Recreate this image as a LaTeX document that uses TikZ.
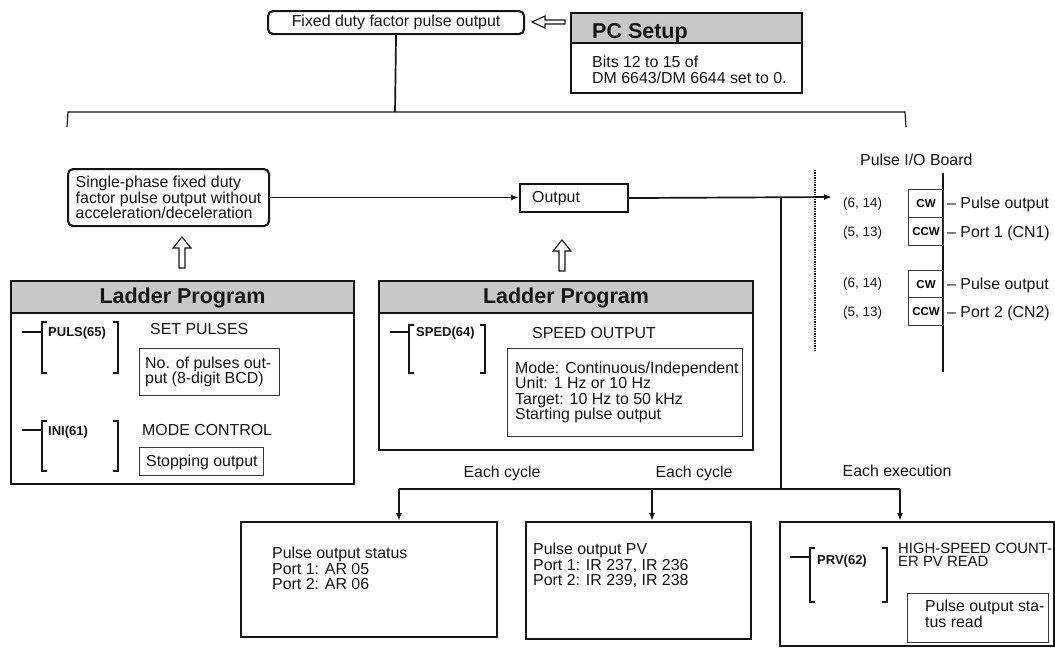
\documentclass[tikz,border=0pt]{standalone}
\usepackage{fontspec}
\setmainfont{Liberation Sans}
\usetikzlibrary{arrows.meta,calc}
\definecolor{hdr}{RGB}{200,200,200}
\definecolor{ink}{RGB}{20,20,20}
\newcommand\bodyfs{\fontsize{15.9}{15.4}\selectfont}
\newcommand\headfs{\fontsize{21.5}{24}\selectfont\bfseries}
\newcommand\instfs{\fontsize{13}{14}\selectfont\bfseries}
\newcommand\cwfs{\fontsize{11.5}{13}\selectfont\bfseries}
\newcommand\pinfs{\fontsize{13.5}{14}\selectfont}
\newcommand\hollowup[2]{\draw[hollow] (#1,#2) -- ({#1+9},{#2+11}) -- ({#1+3},{#2+11}) -- ({#1+3},{#2+31}) -- ({#1-3},{#2+31}) -- ({#1-3},{#2+11}) -- ({#1-9},{#2+11}) -- cycle;}
\newcommand\ladbracket[4]{% x left, x right, y top, y bottom
  \draw[brk] ({#1+5},#3) -- (#1,#3) -- (#1,#4) -- ({#1+5},#4);
  \draw[brk] ({#2-5},#3) -- (#2,#3) -- (#2,#4) -- ({#2-5},#4);}
\begin{document}
\begin{tikzpicture}[x=1pt,y=-1pt,
  frame/.style={draw=ink, line width=2.1pt, inner sep=0pt, anchor=north west},
  rframe/.style={frame, rounded corners=5pt},
  inbox/.style={draw=ink!85, line width=1.1pt, inner sep=0pt, anchor=north west},
  hdrfill/.style={path picture={\fill[hdr] (path picture bounding box.north west) rectangle ([yshift=-#1]path picture bounding box.north east);}},
  lbl/.style={font=\bodyfs, inner sep=0pt, anchor=west, align=left, text=ink},
  hd/.style={font=\headfs, inner sep=0pt, text=ink},
  inst/.style={font=\instfs, inner sep=0pt, anchor=west, text=ink},
  conn/.style={draw=ink, line width=1.7pt},
  arr/.style={conn, -{Latex[length=8pt,width=6pt]}},
  brk/.style={draw=ink, line width=1.1pt},
  hollow/.style={draw=ink, line width=1.1pt, fill=white, line join=miter}]
\useasboundingbox (0,0) rectangle (1055,648);

% top
\node[rframe, minimum width=256pt, minimum height=23pt, font=\bodyfs, text=ink] (fixed) at (267,10) {Fixed duty factor pulse output};
\node[frame, hdrfill=31pt, minimum width=231pt, minimum height=80pt] (pc) at (570,12) {};
\draw[conn] ([yshift=-31pt]pc.north west) -- ([yshift=-31pt]pc.north east);
\node[hd, anchor=base west] (pct) at (592,38) {PC Setup};
\node[lbl] (pcb) at (592,70) {Bits 12 to 15 of\\DM 6643/DM 6644 set to 0.};
\draw[hollow] (532,22) -- (545,16) -- (545,20) -- (565,20) -- (565,24) -- (545,24) -- (545,28) -- cycle;

% brace
\coordinate (bt) at (395,112);
\coordinate (bl) at (68,112);
\coordinate (br) at (905,112);
\draw[conn] (fixed.south) -- (bt);
\draw[conn, line width=1.2pt] (67,127) -- (bl) -- (br) -- (906,127);

% main row
\node[rframe, minimum width=201pt, minimum height=57pt, font=\bodyfs, align=left, text=ink] (single) at (67,168) {Single-phase fixed duty\\factor pulse output without\\acceleration/deceleration};
\node[frame, minimum width=108pt, minimum height=28pt] (out) at (519,183) {};
\node[lbl] (outt) at (532,198.5) {Output};
\draw[arr] (single.east) -- (single.east -| out.west);
\coordinate (bin) at (832,197);
\draw[arr] (out.east) -- (bin);
\coordinate (tap) at (781,197);
\coordinate (junc) at (781,489);
\draw[conn] (tap) -- (junc);

% pulse I/O board
\draw[ink, line width=1.4pt, densely dotted] (815,170) -- (815,352);
\node[lbl] (pio) at (860,159.5) {Pulse I/O Board};
\coordinate (bvt) at (943,173);
\coordinate (bvb) at (943,372);
\draw[conn, line width=1.4pt] (bvt) -- (bvb);
\node[inbox, minimum width=35pt, minimum height=28pt, font=\cwfs] (cw1) at (908,189) {CW};
\node[inbox, minimum width=35pt, minimum height=28pt, font=\cwfs] (ccw1) at (908,217) {CCW};
\node[inbox, minimum width=35pt, minimum height=27pt, font=\cwfs] (cw2) at (908,270) {CW};
\node[inbox, minimum width=35pt, minimum height=28pt, font=\cwfs] (ccw2) at (908,297) {CCW};
\node[lbl, font=\pinfs] (p1a) at (843,204.5) {(6, 14)};
\node[lbl, font=\pinfs] (p1b) at (843,233.5) {(5, 13)};
\node[lbl, font=\pinfs] (p2a) at (843,284.5) {(6, 14)};
\node[lbl, font=\pinfs] (p2b) at (843,313.5) {(5, 13)};
\node[lbl] (l1a) at (947,204.5) {– Pulse output};
\node[lbl] (l1b) at (947,233) {– Port 1 (CN1)};
\node[lbl] (l2a) at (947,285) {– Pulse output};
\node[lbl] (l2b) at (947,313) {– Port 2 (CN2)};

% hollow up arrows
\hollowup{182}{237}
\hollowup{562}{240}

% ladder 1
\node[frame, hdrfill=33pt, minimum width=343pt, minimum height=203pt] (lad1) at (10,280) {};
\draw[conn] ([yshift=-33pt]lad1.north west) -- ([yshift=-33pt]lad1.north east);
\node[hd] (lad1t) at ($(lad1.north)+(0,18)$) {Ladder Program};
\draw[brk] (22,332) -- (42,332);
\ladbracket{42}{118}{322}{373}
\node[inst] (puls) at (48,333) {PULS(65)};
\node[lbl] (setp) at (150,329.5) {SET PULSES};
\node[inbox, minimum width=140pt, minimum height=47pt] (nop) at (139,348) {};
\node[lbl] (nopt) at (145,372) {No. of pulses out-\\put (8-digit BCD)};
\draw[brk] (22,430) -- (42,430);
\ladbracket{42}{118}{421}{471}
\node[inst] (ini) at (48,432) {INI(61)};
\node[lbl] (modec) at (142,430.5) {MODE CONTROL};
\node[inbox, minimum width=124pt, minimum height=28pt] (stop) at (139,447) {};
\node[lbl] (stopt) at (146,462.5) {Stopping output};

% ladder 2
\node[frame, hdrfill=33pt, minimum width=374pt, minimum height=169pt] (lad2) at (378,280) {};
\draw[conn] ([yshift=-33pt]lad2.north west) -- ([yshift=-33pt]lad2.north east);
\node[hd] (lad2t) at ($(lad2.north)+(0,18)$) {Ladder Program};
\draw[brk] (390,332) -- (409,332);
\ladbracket{409}{485}{325}{373}
\node[inst] (sped) at (416,333) {SPED(64)};
\node[lbl] (speedo) at (532,333.5) {SPEED OUTPUT};
\node[inbox, minimum width=235pt, minimum height=88pt] (mode) at (507,348) {};
\node[lbl] (modet) at (515,392.5) {Mode: Continuous/Independent\\Unit: 1 Hz or 10 Hz\\Target: 10 Hz to 50 kHz\\Starting pulse output};

% bottom distribution
\coordinate (hl) at (399,489);
\coordinate (hm) at (652,489);
\coordinate (hr) at (900,489);
\draw[conn] (hl) -- (hr);
\node[lbl, anchor=center] (ec1) at (502,473.5) {Each cycle};
\node[lbl, anchor=center] (ec2) at (694,473.5) {Each cycle};
\node[lbl, anchor=center] (ee) at (897,470.5) {Each execution};

\node[frame, minimum width=256pt, minimum height=115pt] (b1) at (240,521) {};
\node[frame, minimum width=225pt, minimum height=117pt] (b2) at (525,521) {};
\node[frame, minimum width=274pt, minimum height=124pt] (b3) at (779,521) {};
\draw[arr] (hl) -- (hl |- b1.north);
\draw[arr] (hm) -- (hm |- b2.north);
\draw[arr] (hr) -- (hr |- b3.north);

\node[lbl] (b1t) at (272,568.5) {Pulse output status\\Port 1: AR 05\\Port 2: AR 06};
\node[lbl] (b2t) at (533,565.5) {Pulse output PV\\Port 1: IR 237, IR 236\\Port 2: IR 239, IR 238};
\draw[brk] (790,557) -- (810,557);
\ladbracket{810}{887}{548}{602}
\node[inst] (prv) at (817,561) {PRV(62)};
\node[lbl, font=\fontsize{14.9}{13.5}\selectfont] (hsc) at (898,555) {HIGH-SPEED COUNT-\\ER PV READ};
\node[inbox, minimum width=141pt, minimum height=49pt] (psr) at (907,593) {};
\node[lbl] (psrt) at (925,614) {Pulse output sta-\\tus read};
\end{tikzpicture}
\end{document}
